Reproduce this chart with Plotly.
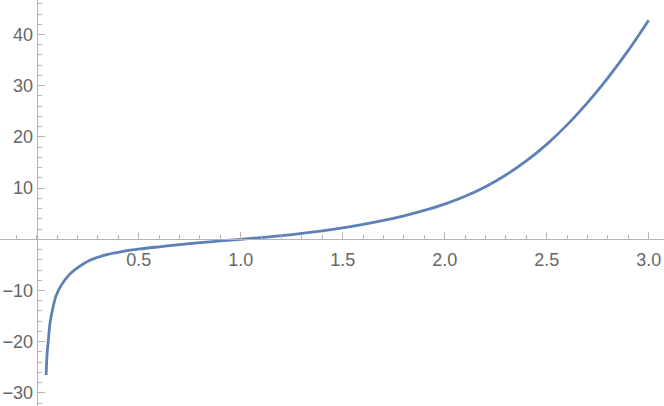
import plotly.graph_objects as go

# Curve samples
x_vals = [0.046, 0.051, 0.057, 0.065, 0.078, 0.095, 0.12, 0.16, 0.21, 0.261,
          0.343, 0.425, 0.506, 0.6, 0.7, 0.8, 0.9, 1.0, 1.1, 1.2,
          1.3, 1.4, 1.5, 1.6, 1.7, 1.8, 1.9, 2.0, 2.1, 2.2,
          2.3, 2.4, 2.5, 2.6, 2.7, 2.8, 2.9, 3.0]
y_vals = [-26.5, -22.3, -19.7, -16.4, -13.6, -11.0, -9.0, -6.9, -5.3, -4.1,
          -3.0, -2.34, -1.89, -1.47, -1.04, -0.66, -0.32, 0.0, 0.34, 0.72,
          1.15, 1.65, 2.23, 2.9, 3.68, 4.59, 5.65, 6.88, 8.4, 10.28,
          12.56, 15.3, 18.55, 22.35, 26.7, 31.55, 36.9, 42.8]

x_ticks = [0.5, 1.0, 1.5, 2.0, 2.5, 3.0]
x_tick_text = ["0.5", "1.0", "1.5", "2.0", "2.5", "3.0"]
y_ticks = [-30, -20, -10, 10, 20, 30, 40]
y_tick_text = ["\u221230", "\u221220", "\u221210", "10", "20", "30", "40"]

x_range = [-0.18, 3.075]
y_range = [-32.56, 46.74]

AXIS_COLOR = "#b5b5b5"
TEXT_COLOR = "#666666"
FONT = dict(family="Liberation Sans, Arial, sans-serif", size=18, color=TEXT_COLOR)

fig = go.Figure()
fig.add_trace(go.Scatter(
    x=x_vals, y=y_vals, mode="lines",
    line=dict(color="#5E81B5", width=2.8, shape="spline", smoothing=0.8),
    hoverinfo="skip", showlegend=False,
))

ypos_of_zero = (0 - y_range[0]) / (y_range[1] - y_range[0])
xpos_of_zero = (0 - x_range[0]) / (x_range[1] - x_range[0])

fig.update_layout(
    width=664, height=406,
    margin=dict(l=0, r=0, t=0, b=0, autoexpand=False),
    paper_bgcolor="white", plot_bgcolor="white",
    xaxis=dict(
        range=x_range, domain=[0, 1], anchor="free", position=ypos_of_zero,
        automargin=False,
        showgrid=False, zeroline=False,
        showline=True, linecolor=AXIS_COLOR, linewidth=1,
        tickmode="array", tickvals=x_ticks, ticktext=x_tick_text,
        ticks="inside", ticklen=7, tickcolor=AXIS_COLOR, tickwidth=1,
        tickfont=FONT, ticklabelstandoff=4,
        minor=dict(tickmode="linear", tick0=0, dtick=0.1, ticks="inside",
                   ticklen=4, tickcolor=AXIS_COLOR, tickwidth=1, showgrid=False),
    ),
    yaxis=dict(
        range=y_range, domain=[0, 1], anchor="free", position=xpos_of_zero,
        automargin=False,
        showgrid=False, zeroline=False,
        showline=True, linecolor=AXIS_COLOR, linewidth=1,
        tickmode="array", tickvals=y_ticks, ticktext=y_tick_text,
        ticks="inside", ticklen=7, tickcolor=AXIS_COLOR, tickwidth=1,
        tickfont=FONT,
        minor=dict(tickmode="linear", tick0=0, dtick=2, ticks="inside",
                   ticklen=4, tickcolor=AXIS_COLOR, tickwidth=1, showgrid=False),
    ),
)

fig.write_html(
    "out.html",
    config={"displayModeBar": False, "staticPlot": True},
    post_script="document.body.style.margin='0';document.body.style.overflow='hidden';",
)
